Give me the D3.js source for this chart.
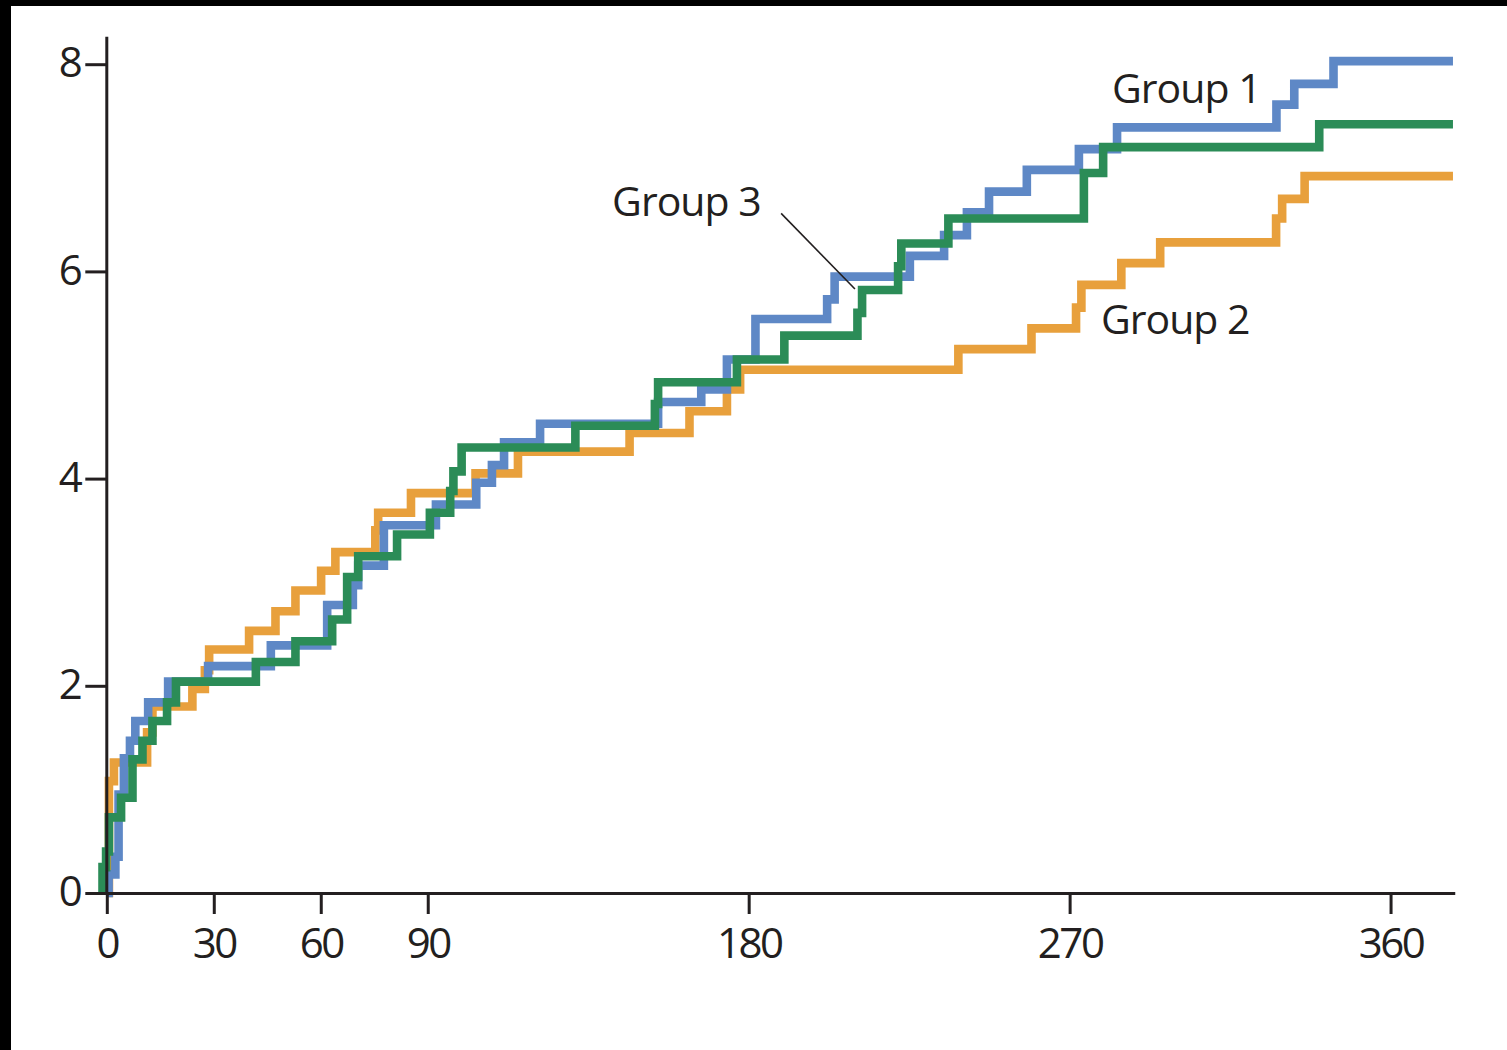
<!DOCTYPE html>
<html>
<head>
<meta charset="utf-8">
<script src="https://cdn.jsdelivr.net/npm/d3@7"></script>
<style>
  html, body { margin: 0; padding: 0; background: #000; }
  #chart { width: 1507px; height: 1050px; }
  text { font-family: "Open Sans", "Noto Sans", sans-serif; fill: #231f20; }
</style>
</head>
<body>
<div id="chart"></div>
<script>
// Tick labels
const xTicks = [0, 30, 60, 90, 180, 270, 360];
const yTicks = [0, 2, 4, 6, 8];

// Group 1 (blue): day of each step and the value after it
const group1Days = [0, 0.5, 2.4, 3.3, 4.8, 6.5, 8, 11.6, 17.2, 28.4, 46, 61.8, 69, 70.5, 77.7, 92.3, 103.6, 108, 111.4, 121.5, 154.6, 166.7, 173.9, 181.9, 202, 204.1, 225.2, 234.8, 241.2, 247.4, 258, 272.6, 283.3, 328, 333, 344, 377.5];
const group1Values = [0, 0.18, 0.35, 0.95, 1.3, 1.47, 1.66, 1.84, 2.04, 2.19, 2.39, 2.78, 2.97, 3.16, 3.55, 3.75, 3.96, 4.13, 4.35, 4.53, 4.74, 4.86, 5.15, 5.54, 5.73, 5.95, 6.15, 6.35, 6.57, 6.77, 6.98, 7.18, 7.39, 7.61, 7.81, 8.03, 8.03];

// Group 2 (orange)
const group2Days = [0, 0.6, 2, 11.3, 12.8, 24, 27.5, 28.7, 39.9, 47.3, 52.9, 60.1, 64.1, 75.3, 76.1, 85.3, 103.4, 115.3, 146.6, 163.4, 173.9, 177.6, 238.8, 259.3, 271.8, 273.3, 284.5, 295.4, 327.9, 329.6, 335.9, 377.5];
const group2Values = [0, 1.08, 1.26, 1.55, 1.8, 1.97, 2.15, 2.35, 2.53, 2.72, 2.92, 3.11, 3.29, 3.5, 3.67, 3.86, 4.05, 4.26, 4.44, 4.65, 4.86, 5.05, 5.25, 5.45, 5.65, 5.87, 6.08, 6.28, 6.51, 6.7, 6.92, 6.92];

// Group 3 (green)
const group3Days = [-1.2, -1.2, -0.2, 0.6, 4, 7.2, 10, 12.8, 16.9, 19.4, 41.8, 52.9, 63.2, 67.4, 70.5, 81.4, 90.6, 96.3, 97.2, 99.5, 131.4, 153.7, 154.6, 176.7, 190, 210.5, 211.8, 221.9, 222.8, 236, 274, 279.4, 340, 377.5];
const group3Values = [0, 0.25, 0.4, 0.73, 0.92, 1.29, 1.47, 1.66, 1.84, 2.04, 2.23, 2.43, 2.64, 3.05, 3.25, 3.46, 3.67, 3.88, 4.07, 4.3, 4.51, 4.72, 4.93, 5.15, 5.38, 5.6, 5.82, 6.05, 6.27, 6.51, 6.95, 7.2, 7.42, 7.42];

const series = [
  {name: 'Group 2', days: group2Days, values: group2Values, color: '#e8a03c'},
  {name: 'Group 1', days: group1Days, values: group1Values, color: '#5e88c6'},
  {name: 'Group 3', days: group3Days, values: group3Values, color: '#2b8c57'}
];

const W = 1507, H = 1050;
const svg = d3.select('#chart')
  .append('svg')
  .attr('width', W)
  .attr('height', H);

// black frame on top and left, white page
svg.append('rect').attr('width', W).attr('height', H).attr('fill', '#000');
svg.append('rect').attr('x', 11).attr('y', 6).attr('width', W - 11).attr('height', H - 6).attr('fill', '#fff');

// Scales
const x = d3.scaleLinear()
  .domain([0, 378])
  .range([106.8, 106.8 + 378 * 3.566]);

const y = d3.scaleLinear()
  .domain([0, 8.27])
  .range([893, 893 - 8.27 * 103.6]);

// Lines
const line = d3.line()
  .x(d => x(d[0]))
  .y(d => y(d[1]))
  .curve(d3.curveStepAfter);

series.forEach(s => {
  const pts = s.days.map((d, i) => [d, s.values[i]]);
  svg.append('path')
    .datum(pts)
    .attr('fill', 'none')
    .attr('stroke', s.color)
    .attr('stroke-width', 8.6)
    .attr('stroke-linejoin', 'miter')
    .attr('stroke-linecap', 'butt')
    .attr('d', line);
});

// Axes
const xAxis = svg.append('g')
  .attr('transform', `translate(0, ${y(0)})`)
  .call(d3.axisBottom(x).tickValues(xTicks).tickSize(21).tickSizeOuter(0).tickPadding(14));

const yAxis = svg.append('g')
  .attr('transform', `translate(${x(0) - 0.5}, 0)`)
  .call(d3.axisLeft(y).tickValues(yTicks).tickSize(21).tickSizeOuter(0).tickPadding(5));

[xAxis, yAxis].forEach(g => {
  g.select('.domain').attr('stroke', '#231f20').attr('stroke-width', 3);
  g.selectAll('.tick line').attr('stroke', '#231f20').attr('stroke-width', 3);
  g.selectAll('.tick text')
    .attr('fill', '#231f20')
    .style('font-family', '"Open Sans", "Noto Sans", sans-serif')
    .style('font-size', '42px')
    .style('letter-spacing', '-2.5px');
});
yAxis.selectAll('.tick text').attr('dy', '0.30em');

// Group labels
const labels = [
  {text: 'Group 1', day: 281.9, value: 7.63},
  {text: 'Group 2', day: 278.8, value: 5.4},
  {text: 'Group 3', day: 141.7, value: 6.53}
];

svg.append('g')
  .selectAll('text')
  .data(labels)
  .enter()
  .append('text')
  .attr('x', d => x(d.day))
  .attr('y', d => y(d.value))
  .style('font-size', '41px')
  .style('letter-spacing', '-1px')
  .text(d => d.text);

// leader line for Group 3
svg.append('line')
  .attr('x1', x(189.1)).attr('y1', y(6.56))
  .attr('x2', x(209.8)).attr('y2', y(5.83))
  .attr('stroke', '#231f20')
  .attr('stroke-width', 1.6);
</script>
</body>
</html>
